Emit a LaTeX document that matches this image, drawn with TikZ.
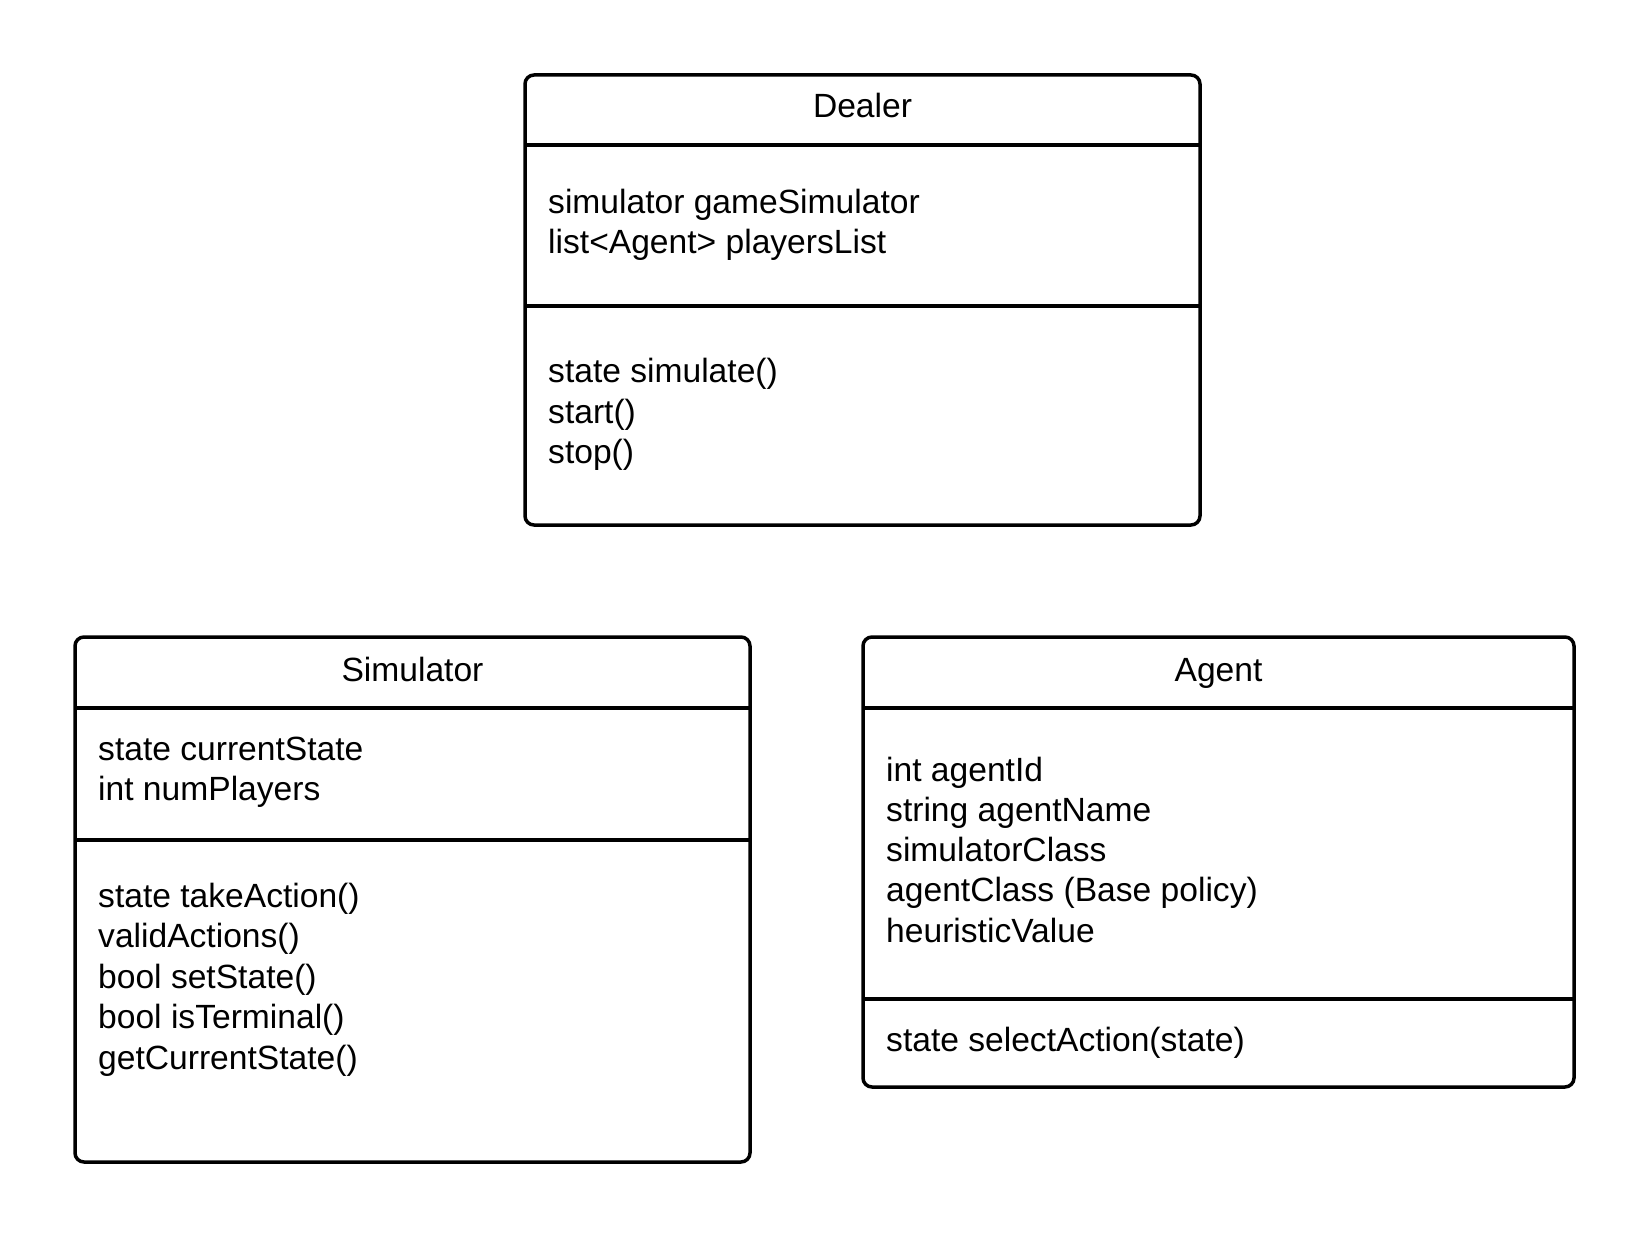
\documentclass[tikz,border=0pt]{standalone}
\usepackage{fontspec}
\setmainfont{Liberation Sans}
\begin{document}
\begin{tikzpicture}[x=1pt,y=-1pt,
  classbox/.style={draw=black, line width=3.5pt, rounded corners=9pt, fill=white,
    anchor=north west, inner sep=0pt, outer sep=0pt},
  divider/.style={draw=black, line width=3.5pt},
  title/.style={anchor=base, inner sep=0pt, font=\fontsize{33.6}{40}\selectfont},
  member/.style={anchor=base west, inner sep=0pt, font=\fontsize{33.6}{40}\selectfont}]
\useasboundingbox[fill=white] (0,0) rectangle (1650,1238);

% class frames
\node[classbox, minimum width=675pt, minimum height=450pt] (dealer) at (525,75) {};
\node[classbox, minimum width=675pt, minimum height=525pt] (simulator) at (75,637) {};
\node[classbox, minimum width=711pt, minimum height=450pt] (agent) at (863,637) {};

% compartment separators
\draw[divider] (dealer.west |- 0,145) -- (dealer.east |- 0,145);
\draw[divider] (dealer.west |- 0,306) -- (dealer.east |- 0,306);
\draw[divider] (simulator.west |- 0,708) -- (simulator.east |- 0,708);
\draw[divider] (simulator.west |- 0,840) -- (simulator.east |- 0,840);
\draw[divider] (agent.west |- 0,708) -- (agent.east |- 0,708);
\draw[divider] (agent.west |- 0,999) -- (agent.east |- 0,999);

% class names
\node[title] (dealerT) at (862.5,118) {Dealer};
\node[title] (simulatorT) at (412.5,681) {Simulator};
\node[title] (agentT) at (1218.5,681) {Agent};

% Dealer members
\foreach \t [count=\i] in {{simulator gameSimulator},{list<Agent> playersList}}
  \node[member] (dealerA\i) at (548,{214+(\i-1)*40}) {\t};
\foreach \t [count=\i] in {{state simulate()},{start()},{stop()}}
  \node[member] (dealerM\i) at (548,{383+(\i-1)*40.5}) {\t};

% Simulator members
\foreach \t [count=\i] in {{state currentState},{int numPlayers}}
  \node[member] (simulatorA\i) at (98,{760+(\i-1)*40.5}) {\t};
\foreach \t [count=\i] in {{state takeAction()},{validActions()},{bool setState()},{bool isTerminal()},{getCurrentState()}}
  \node[member] (simulatorM\i) at (98,{907+(\i-1)*40.5}) {\t};

% Agent members
\foreach \t [count=\i] in {{int agentId},{string agentName},{simulatorClass},{agentClass (Base policy)},{heuristicValue}}
  \node[member] (agentA\i) at (886,{781+(\i-1)*40.3}) {\t};
\node[member] (agentM1) at (886,1051) {state selectAction(state)};
\end{tikzpicture}
\end{document}
